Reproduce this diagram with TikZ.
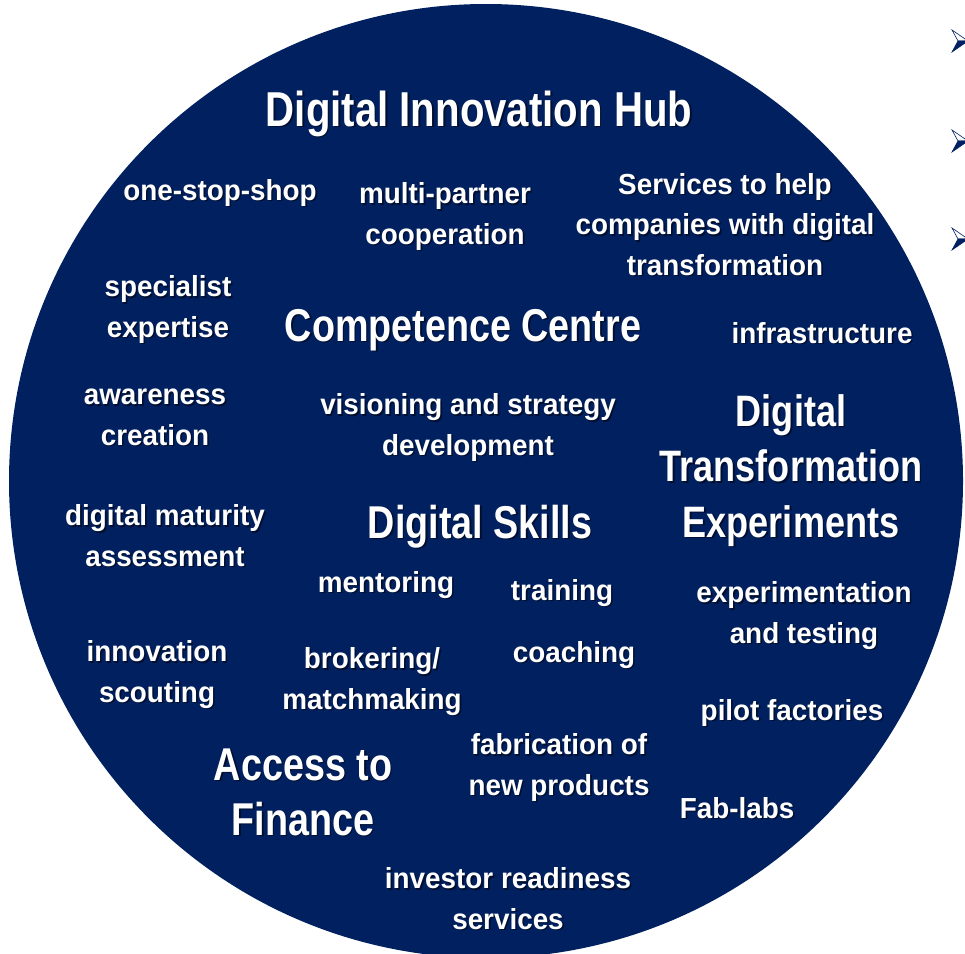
\documentclass[tikz,border=0pt]{standalone}
\usepackage{fontspec}
\setmainfont{Liberation Sans}
\newfontfamily\smallfont{Liberation Sans}[FakeStretch=0.96]
\newfontfamily\headfont{Liberation Sans}[FakeStretch=0.82]
\usetikzlibrary{positioning}
\definecolor{hubblue}{RGB}{0,32,96}
\tikzstyle{item} = [text=white, align=center, anchor=base, inner sep=0pt, font=\smallfont\bfseries\fontsize{29}{40.5}\selectfont]
\tikzstyle{heading} = [text=white, align=center, anchor=base, inner sep=0pt, font=\headfont\bfseries\fontsize{46}{55}\selectfont]
\tikzstyle{title} = [text=white, align=center, anchor=base, inner sep=0pt, font=\headfont\bfseries\fontsize{49}{55}\selectfont]
\tikzstyle{shade} = [text=black, opacity=0.5]
\tikzstyle{bullet} = [draw=hubblue, line width=0.6pt, line join=miter]
% label with a soft shadow behind it (y is the baseline of the last line)
\newcommand{\lbl}[5]{%
\node[#2, shade] at (#3+1.6,#4+1.6) {#5};
\node[#2] (#1) at (#3,#4) {#5};}

\begin{document}
\begin{tikzpicture}[x=1pt,y=-1pt]
\useasboundingbox (0,0) rectangle (965,953);
\clip (0,0) rectangle (965,953);
\fill[hubblue] (486,481) circle (477);
% Bullets of the slide text at the right edge
\foreach \by in {41,141,239} {
  \path[bullet, fill=white] (952,\by-11) -- (968,\by) -- (958,\by) -- cycle;
  \path[bullet, fill=hubblue] (958,\by) -- (968,\by) -- (952,\by+11) -- cycle;
}
% Headings
\lbl{hub}{title}{479}{126}{Digital Innovation Hub}
\lbl{cc}{heading}{463}{341}{Competence Centre}
\lbl{skills}{heading}{480}{538}{Digital Skills}
\lbl{dte}{heading, font=\headfont\bfseries\fontsize{44}{55.5}\selectfont}{791}{537}{Digital\\Transformation\\Experiments}
\lbl{finance}{heading}{303}{835}{Access to\\Finance}
% Services
\lbl{oss}{item}{220}{200}{one-stop-shop}
\lbl{multi}{item}{445}{244}{multi-partner\\cooperation}
\lbl{help}{item}{725}{275}{Services to help\\companies with digital\\transformation}
\lbl{expert}{item}{168}{337}{specialist\\expertise}
\lbl{infra}{item}{822}{343}{infrastructure}
\lbl{aware}{item}{155}{445}{awareness\\creation}
\lbl{vision}{item}{468}{455}{visioning and strategy\\development}
\lbl{maturity}{item}{165}{566}{digital maturity\\assessment}
\lbl{mentor}{item}{386}{592}{mentoring}
\lbl{train}{item}{562}{600}{training}
\lbl{exper}{item}{804}{643}{experimentation\\and testing}
\lbl{scout}{item}{157}{702}{innovation\\scouting}
\lbl{broker}{item}{372}{709}{brokering/\\matchmaking}
\lbl{coach}{item}{574}{662}{coaching}
\lbl{pilot}{item}{792}{720}{pilot factories}
\lbl{fab}{item}{559}{795}{fabrication of\\new products}
\lbl{lab}{item}{737}{818}{Fab-labs}
\lbl{invest}{item}{508}{929}{investor readiness\\services}
\end{tikzpicture}
\end{document}
